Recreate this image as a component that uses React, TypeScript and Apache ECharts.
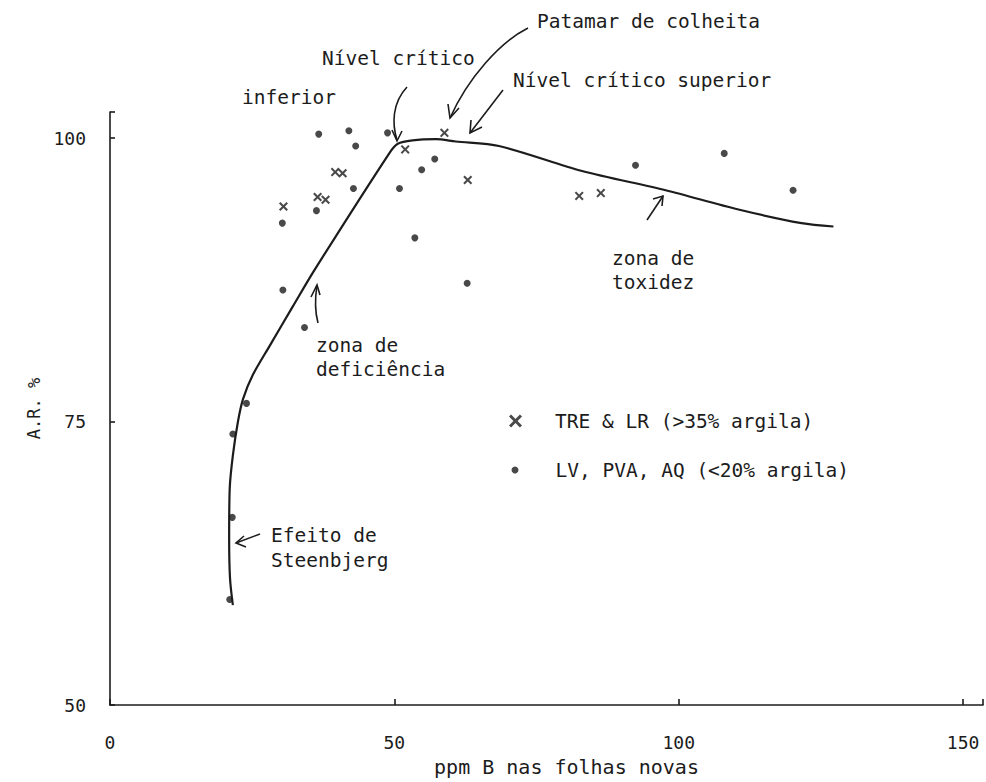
import React, { useEffect, useRef } from "react";
import * as echarts from "echarts";

const xTicks = [0, 50, 100, 150];
const yTicks = [50, 75, 100];

const curveX = [21.6, 21.1, 20.95, 21.05, 21.6, 22.5, 23.4, 25.1, 28.1, 32.2, 36.0, 49.1, 50.6, 53.2, 57.3, 60.8, 68.4, 83.0, 97.7, 110.5, 121.6, 127.2];
const curveY = [58.8, 61.2, 64.7, 69.1, 72.0, 75.0, 77.0, 79.1, 81.7, 85.2, 88.4, 98.66, 99.5, 99.8, 99.9, 99.7, 99.3, 97.1, 95.4, 93.7, 92.5, 92.2];

const dotsX = [36.7, 42.0, 48.8, 43.2, 42.8, 36.3, 30.3, 50.9, 54.8, 57.1, 53.6, 62.8, 30.4, 34.2, 92.4, 108.0, 120.1, 24.0, 21.6, 21.5, 21.05];
const dotsY = [100.35, 100.64, 100.46, 99.3, 95.55, 93.6, 92.5, 95.55, 97.2, 98.15, 91.2, 87.2, 86.6, 83.3, 97.6, 98.65, 95.4, 76.6, 73.9, 66.55, 59.3];

const crossX = [30.5, 36.5, 37.9, 39.6, 40.9, 51.9, 58.8, 62.9, 82.5, 86.3];
const crossY = [93.97, 94.8, 94.56, 97.0, 96.9, 99.0, 100.46, 96.3, 94.9, 95.15];

const seriesCross = "TRE & LR (>35% argila)";
const seriesDot = "LV, PVA, AQ (<20% argila)";

const INK = "#1c1c1c";
const FONT = "DejaVu Sans Mono";
const CROSS =
  "path://M0,1.6L1.6,0L5,3.4L8.4,0L10,1.6L6.6,5L10,8.4L8.4,10L5,6.6L1.6,10L0,8.4L3.4,5Z";

function txt(text: string, x: number, y: number, lineHeight = 22) {
  return {
    type: "text",
    x,
    y,
    style: {
      text,
      fill: INK,
      font: `19.5px "${FONT}"`,
      lineHeight,
      textVerticalAlign: "middle",
      verticalAlign: "middle",
    },
  };
}

const lineStyle = { stroke: INK, lineWidth: 1.6, fill: "none" };

function poly(points: number[][]) {
  return { type: "polyline", shape: { points }, style: lineStyle };
}

export default function App() {
  const ref = useRef<HTMLDivElement>(null);

  useEffect(() => {
    if (!ref.current) return;
    const chart = echarts.init(ref.current, null, { renderer: "svg" });
    const option: any = {
      animation: false,
      backgroundColor: "#ffffff",
      grid: { left: 110, right: 1, top: 112, bottom: 74 },
      xAxis: {
        type: "value",
        min: 0,
        max: 153.5,
        interval: 50,
        name: "ppm B nas folhas novas",
        nameLocation: "middle",
        nameGap: 52,
        nameTextStyle: {
          color: INK,
          fontFamily: FONT,
          fontSize: 20,
          padding: [0, 0, 0, 40],
        },
        axisLine: { lineStyle: { color: INK, width: 1.6 } },
        axisTick: { inside: true, length: 6, lineStyle: { color: INK, width: 1.6 } },
        axisLabel: {
          margin: 28,
          color: INK,
          fontFamily: FONT,
          fontSize: 18,
          formatter: (v: number) => (xTicks.includes(v) ? String(v) : ""),
        },
        splitLine: { show: false },
      },
      yAxis: {
        type: "value",
        min: 50,
        max: 102.3,
        interval: 25,
        name: "A.R. %",
        nameLocation: "middle",
        nameGap: 55,
        nameRotate: 90,
        nameTextStyle: { color: INK, fontFamily: FONT, fontSize: 17 },
        axisLine: { lineStyle: { color: INK, width: 1.6 } },
        axisTick: { inside: true, length: 5, lineStyle: { color: INK, width: 1.6 } },
        axisLabel: {
          margin: 24,
          color: INK,
          fontFamily: FONT,
          fontSize: 18,
          formatter: (v: number) => (yTicks.includes(v) ? String(v) : ""),
        },
        splitLine: { show: false },
      },
      legend: [
        {
          left: 509,
          top: 411,
          padding: 0,
          selectedMode: false,
          itemWidth: 13,
          itemHeight: 13,
          textStyle: { color: INK, fontFamily: FONT, fontSize: 19.5, padding: [0, 0, 0, 28] },
          data: [{ name: seriesCross, icon: CROSS }],
        },
        {
          left: 511.5,
          top: 460,
          padding: 0,
          selectedMode: false,
          itemWidth: 7,
          itemHeight: 7,
          textStyle: { color: INK, fontFamily: FONT, fontSize: 19.5, padding: [0, 0, 0, 32] },
          data: [{ name: seriesDot, icon: "circle" }],
        },
      ],
      series: [
        {
          type: "line",
          name: "curva",
          data: curveX.map((x, i) => [x, curveY[i]]),
          smooth: 0.3,
          showSymbol: false,
          lineStyle: { color: INK, width: 2.2 },
          z: 1,
        },
        {
          type: "scatter",
          name: seriesDot,
          data: dotsX.map((x, i) => [x, dotsY[i]]),
          symbol: "circle",
          symbolSize: 7,
          itemStyle: { color: INK },
          z: 3,
        },
        {
          type: "scatter",
          name: seriesCross,
          data: crossX.map((x, i) => [x, crossY[i]]),
          symbol: CROSS,
          symbolSize: 9,
          itemStyle: { color: INK },
          z: 3,
        },
      ],
      graphic: [
        txt("Patamar de colheita", 537, 21),
        txt("Nível crítico", 322, 58),
        txt("Nível crítico superior", 513, 80),
        txt("inferior", 242, 97),
        txt("zona de\ndeficiência", 316, 357, 24),
        txt("zona de\ntoxidez", 612, 270, 24),
        txt("Efeito de\nSteenbjerg", 271, 547.5, 25),
        // Nível crítico arrow
        {
          type: "bezierCurve",
          shape: { x1: 407, y1: 87, cpx1: 392, cpy1: 103, cpx2: 392, cpy2: 124, x2: 397, y2: 140 },
          style: lineStyle,
        },
        poly([[392, 130], [397, 141], [402, 131]]),
        // Patamar arrow
        {
          type: "bezierCurve",
          shape: { x1: 528, y1: 28, cpx1: 500, cpy1: 42, cpx2: 468, cpy2: 78, x2: 450, y2: 118 },
          style: lineStyle,
        },
        poly([[448, 104], [450, 118], [459, 108]]),
        // Nível crítico superior arrow
        { type: "line", shape: { x1: 503, y1: 90, x2: 470, y2: 133 }, style: lineStyle },
        poly([[471, 120], [470, 133], [482, 127]]),
        // toxidez arrow
        { type: "line", shape: { x1: 647, y1: 220, x2: 663, y2: 196 }, style: lineStyle },
        poly([[653, 199], [663, 196], [662, 206]]),
        // deficiência arrow
        {
          type: "bezierCurve",
          shape: { x1: 318, y1: 323, cpx1: 315, cpy1: 312, cpx2: 315, cpy2: 298, x2: 317, y2: 285 },
          style: lineStyle,
        },
        poly([[311, 297], [317, 285], [320, 295]]),
        // Steenbjerg arrow
        { type: "line", shape: { x1: 260, y1: 534, x2: 236, y2: 543 }, style: lineStyle },
        poly([[244, 536], [236, 543], [246, 547]]),
      ],
    };
    chart.setOption(option);
    return () => chart.dispose();
  }, []);

  return (
    <div
      ref={ref}
      style={{ position: "absolute", left: 0, top: 0, width: 986, height: 782, background: "#fff" }}
    />
  );
}
